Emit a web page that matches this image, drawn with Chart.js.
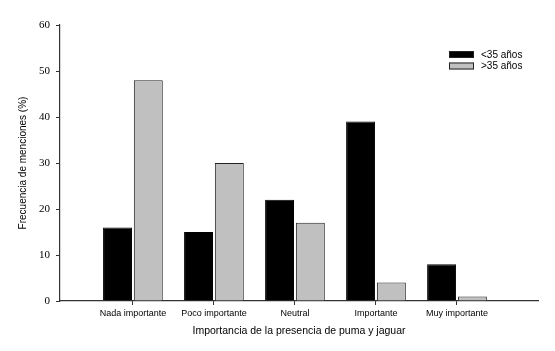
<!DOCTYPE html>
<html>
<head>
<meta charset="utf-8">
<script src="https://cdn.jsdelivr.net/npm/chart.js@4/dist/chart.umd.min.js"></script>
<style>
  html, body { margin: 0; padding: 0; background: #fff; }
  #wrap { width: 555px; height: 351px; }
</style>
</head>
<body>
<div id="wrap"><canvas id="graphicFirst" width="555" height="351"></canvas></div>
<script>
// Importancia de la presencia de puma y jaguar por grupo de edad

const categories = ['Nada importante', 'Poco importante', 'Neutral', 'Importante', 'Muy importante'];
const menores35 = [16, 15, 22, 39, 8];
const mayores35 = [48, 30, 17, 4, 1];
const seriesNames = ['<35 años', '>35 años'];
const yTicks = [0, 10, 20, 30, 40, 50, 60];

const axisColor = '#333';

//-----LEGEND (dibujada a mano, arriba a la derecha)
const legendPlugin = {
  id: 'legendBox',
  afterDraw(chart) {
    const ctx = chart.ctx;
    const items = [
      { text: seriesNames[0], fill: '#000' },
      { text: seriesNames[1], fill: '#c0c0c0' }
    ];
    ctx.save();
    ctx.font = '10px "Liberation Sans", Arial, sans-serif';
    ctx.textBaseline = 'middle';
    ctx.textAlign = 'left';
    items.forEach((it, i) => {
      const y = 51 + i * 11.5;
      ctx.fillStyle = it.fill;
      ctx.fillRect(449, y, 25, 7);
      ctx.strokeStyle = '#222';
      ctx.lineWidth = 1;
      ctx.strokeRect(449.5, y + 0.5, 24, 6);
      ctx.fillStyle = '#000';
      ctx.fillText(it.text, 481, y + 4);
    });
    ctx.restore();
  }
};

const datos = {
  datasets: [
    {
      label: seriesNames[0],
      data: menores35.map((v, i) => ({ x: i + 1, y: v })),
      backgroundColor: '#000',
      borderColor: '#000',
      borderWidth: 1,
      categoryPercentage: 0.76,
      barPercentage: 0.94
    },
    {
      label: seriesNames[1],
      data: mayores35.map((v, i) => ({ x: i + 1, y: v })),
      backgroundColor: '#c0c0c0',
      borderColor: '#222',
      borderWidth: 1,
      categoryPercentage: 0.76,
      barPercentage: 0.94
    }
  ]
};

const chart1 = new Chart(document.getElementById('graphicFirst').getContext('2d'), {
  type: 'bar',
  data: datos,
  plugins: [legendPlugin],
  options: {
    responsive: false,
    animation: false,
    devicePixelRatio: 1,
    layout: { padding: { top: 25, right: 17, left: 0, bottom: 0 } },
    plugins: {
      legend: { display: false },
      tooltip: { enabled: false }
    },
    scales: {
      x: {
        type: 'linear',
        min: 0.1,
        max: 6.0,
        offset: false,
        afterBuildTicks: s => { s.ticks = categories.map((c, i) => ({ value: i + 1 })); },
        afterFit: s => { s.height = 50; },
        border: { display: true, color: axisColor, width: 1.2 },
        grid: { display: true, offset: false, drawOnChartArea: false, tickLength: 4, color: axisColor },
        ticks: {
          autoSkip: false,
          maxRotation: 0,
          padding: 3,
          color: '#000',
          font: { family: '"Liberation Sans", Arial, sans-serif', size: 9 },
          callback: v => categories[v - 1] || ''
        },
        title: {
          display: true,
          text: 'Importancia de la presencia de puma y jaguar',
          color: '#000',
          padding: { top: 4, bottom: 14 },
          font: { family: '"Liberation Sans", Arial, sans-serif', size: 10.5 }
        }
      },
      y: {
        min: 0,
        max: 60,
        afterBuildTicks: s => { s.ticks = yTicks.map(v => ({ value: v })); },
        afterFit: s => { s.width = 60; },
        border: { display: true, color: axisColor, width: 1.2 },
        grid: { display: true, drawOnChartArea: false, tickLength: 4, color: axisColor },
        ticks: {
          padding: 6,
          color: '#000',
          font: { family: '"Liberation Serif", "Times New Roman", serif', size: 11 }
        },
        title: {
          display: true,
          text: 'Frecuencia de menciones (%)',
          color: '#000',
          padding: { top: 17, bottom: 0 },
          font: { family: '"Liberation Sans", Arial, sans-serif', size: 10 }
        }
      }
    }
  }
});
</script>
</body>
</html>
